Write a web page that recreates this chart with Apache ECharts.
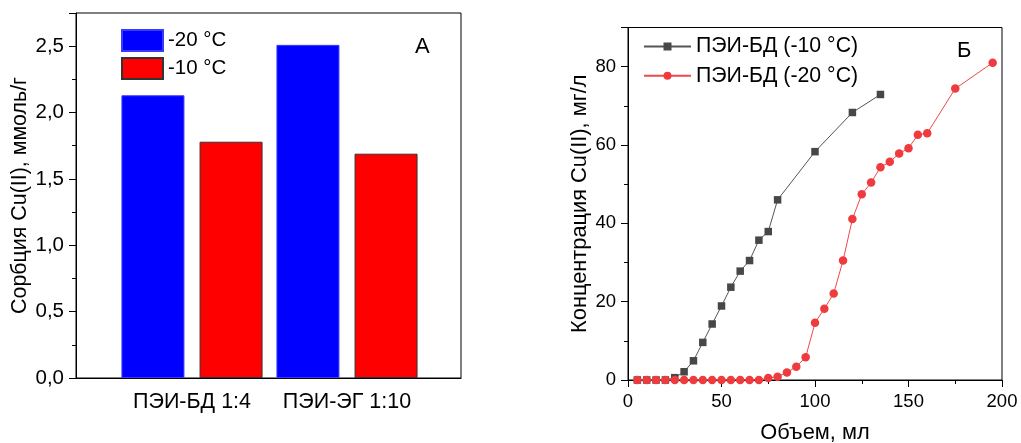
<!DOCTYPE html>
<html>
<head>
<meta charset="utf-8">
<script src="https://cdn.jsdelivr.net/npm/echarts@6/dist/echarts.min.js"></script>
<style>html,body{margin:0;padding:0;background:#fff}#c{width:1021px;height:443px}</style>
</head>
<body>
<div id="c"></div>
<script>
// Panel A data
const barCategories = ['ПЭИ-БД 1:4', 'ПЭИ-ЭГ 1:10'];
const sorption20 = [2.13, 2.51];
const sorption10 = [1.78, 1.69];
const barSeriesNames = ['-20 °C', '-10 °C'];

// Panel Б data
const volBD10 = [5, 10, 15, 20, 25, 30, 35, 40, 45, 50, 55, 60, 65, 70, 75, 80, 100, 120, 135];
const concBD10 = [0, 0, 0, 0, 0.6, 2.1, 4.9, 9.6, 14.3, 18.9, 23.7, 27.8, 30.5, 35.7, 37.9, 46.0, 58.3, 68.3, 72.9];
const volBD20 = [5, 10, 15, 20, 25, 30, 35, 40, 45, 50, 55, 60, 65, 70, 75, 80, 85, 90, 95, 100, 105, 110, 115, 120, 125, 130, 135, 140, 145, 150, 155, 160, 175, 195];
const concBD20 = [0, 0, 0, 0, 0, 0, 0, 0, 0, 0, 0, 0, 0, 0, 0.5, 0.85, 1.9, 3.4, 5.8, 14.6, 18.2, 22.1, 30.5, 41.1, 47.4, 50.4, 54.3, 55.7, 57.8, 59.2, 62.6, 63.0, 74.4, 81.0];
const lineSeriesNames = ['ПЭИ-БД (-10 °C)', 'ПЭИ-БД (-20 °C)'];

const FONT = 'Liberation Sans, Arial, sans-serif';
const chart = echarts.init(document.getElementById('c'), null, {renderer: 'canvas'});

function zip(a, b) { return a.map((v, i) => [v, b[i]]); }

const tickAxisCommon = {
  axisLine: {show: true, lineStyle: {color: '#000', width: 1}},
  axisTick: {show: true, inside: false, length: 7, lineStyle: {color: '#000', width: 1}},
  minorTick: {show: true, splitNumber: 2, length: 4, lineStyle: {color: '#000', width: 1}},
  splitLine: {show: false}
};

const option = {
  animation: false,
  backgroundColor: '#fff',
  textStyle: {fontFamily: FONT},
  title: [
    {text: 'А', left: 410, top: 31, textStyle: {fontFamily: FONT, fontSize: 22, fontWeight: 'normal', color: '#000'}},
    {text: 'Б', left: 952, top: 35, textStyle: {fontFamily: FONT, fontSize: 22, fontWeight: 'normal', color: '#000'}}
  ],
  legend: [
    {
      data: barSeriesNames, orient: 'vertical', left: 121, top: 29,
      itemWidth: 41, itemHeight: 21, itemGap: 5, icon: 'rect',
      textStyle: {fontFamily: FONT, fontSize: 20.5, color: '#000'},
      padding: 0
    },
    {
      data: lineSeriesNames, orient: 'vertical', left: 643, top: 36,
      itemWidth: 47, itemHeight: 10, itemGap: 8.3,
      textStyle: {fontFamily: FONT, fontSize: 21.3, lineHeight: 21, color: '#000'},
      padding: 0
    }
  ],
  grid: [
    {left: 76, right: 560, top: 13, bottom: 65, show: true, borderColor: '#000', borderWidth: 1, backgroundColor: 'transparent', outerBoundsMode: 'none', containLabel: false},
    {left: 114.5, width: 310, top: 13, bottom: 65, outerBoundsMode: 'none', containLabel: false},
    {left: 628, right: 19, top: 27.5, bottom: 63, show: true, borderColor: '#000', borderWidth: 1, backgroundColor: 'transparent', outerBoundsMode: 'none', containLabel: false}
  ],
  xAxis: [
    {gridIndex: 0, type: 'value', min: 0, max: 1, axisLine: {show: true, lineStyle: {color: '#000'}}, axisTick: {show: false}, axisLabel: {show: false}, splitLine: {show: false}},
    {gridIndex: 1, type: 'category', data: barCategories, axisLine: {show: false}, axisTick: {show: false},
      axisLabel: {color: '#000', fontFamily: FONT, fontSize: 21.5, margin: 13, interval: 0, hideOverlap: false}},
    Object.assign({}, tickAxisCommon, {gridIndex: 2, type: 'value', min: 0, max: 200, interval: 50,
      name: 'Объем, мл', nameLocation: 'middle', nameGap: 42,
      nameTextStyle: {color: '#000', fontFamily: FONT, fontSize: 21.8},
      axisLabel: {color: '#000', fontFamily: FONT, fontSize: 18.5, margin: 12}})
  ],
  yAxis: [
    Object.assign({}, tickAxisCommon, {gridIndex: 0, type: 'value', min: 0, max: 2.75, interval: 0.5,
      name: 'Сорбция Cu(II), ммоль/г', nameLocation: 'middle', nameGap: 45, nameRotate: 90,
      nameTextStyle: {color: '#000', fontFamily: FONT, fontSize: 21.4},
      axisLabel: {color: '#000', fontFamily: FONT, fontSize: 20.5, margin: 12, showMaxLabel: false,
        formatter: v => v.toFixed(1).replace('.', ',')}}),
    {gridIndex: 1, type: 'value', min: 0, max: 2.75, show: false},
    Object.assign({}, tickAxisCommon, {gridIndex: 2, type: 'value', min: 0, max: 90, interval: 20,
      name: 'Концентрация Cu(II), мг/л', nameLocation: 'middle', nameGap: 37, nameRotate: 90,
      nameTextStyle: {color: '#000', fontFamily: FONT, fontSize: 21.8},
      axisLabel: {color: '#000', fontFamily: FONT, fontSize: 18.5, margin: 12, showMaxLabel: false}})
  ],
  series: [
    {name: barSeriesNames[0], type: 'bar', xAxisIndex: 1, yAxisIndex: 1, data: sorption20,
      barWidth: 63, barGap: '24%', itemStyle: {color: '#0000ff', borderColor: '#3a3aff', borderWidth: 1}},
    {name: barSeriesNames[1], type: 'bar', xAxisIndex: 1, yAxisIndex: 1, data: sorption10,
      barWidth: 63, barGap: '24%', itemStyle: {color: '#ff0000', borderColor: '#333', borderWidth: 1}},
    {name: lineSeriesNames[0], type: 'line', xAxisIndex: 2, yAxisIndex: 2, data: zip(volBD10, concBD10),
      symbol: 'rect', symbolSize: 7.5, showAllSymbol: true,
      lineStyle: {color: '#555', width: 1}, itemStyle: {color: '#474747'}, z: 3},
    {name: lineSeriesNames[1], type: 'line', xAxisIndex: 2, yAxisIndex: 2, data: zip(volBD20, concBD20),
      symbol: 'circle', symbolSize: 8.5, showAllSymbol: true,
      lineStyle: {color: '#f04848', width: 1}, itemStyle: {color: '#ef3a3e'}, z: 4}
  ]
};
chart.setOption(option);
</script>
</body>
</html>
